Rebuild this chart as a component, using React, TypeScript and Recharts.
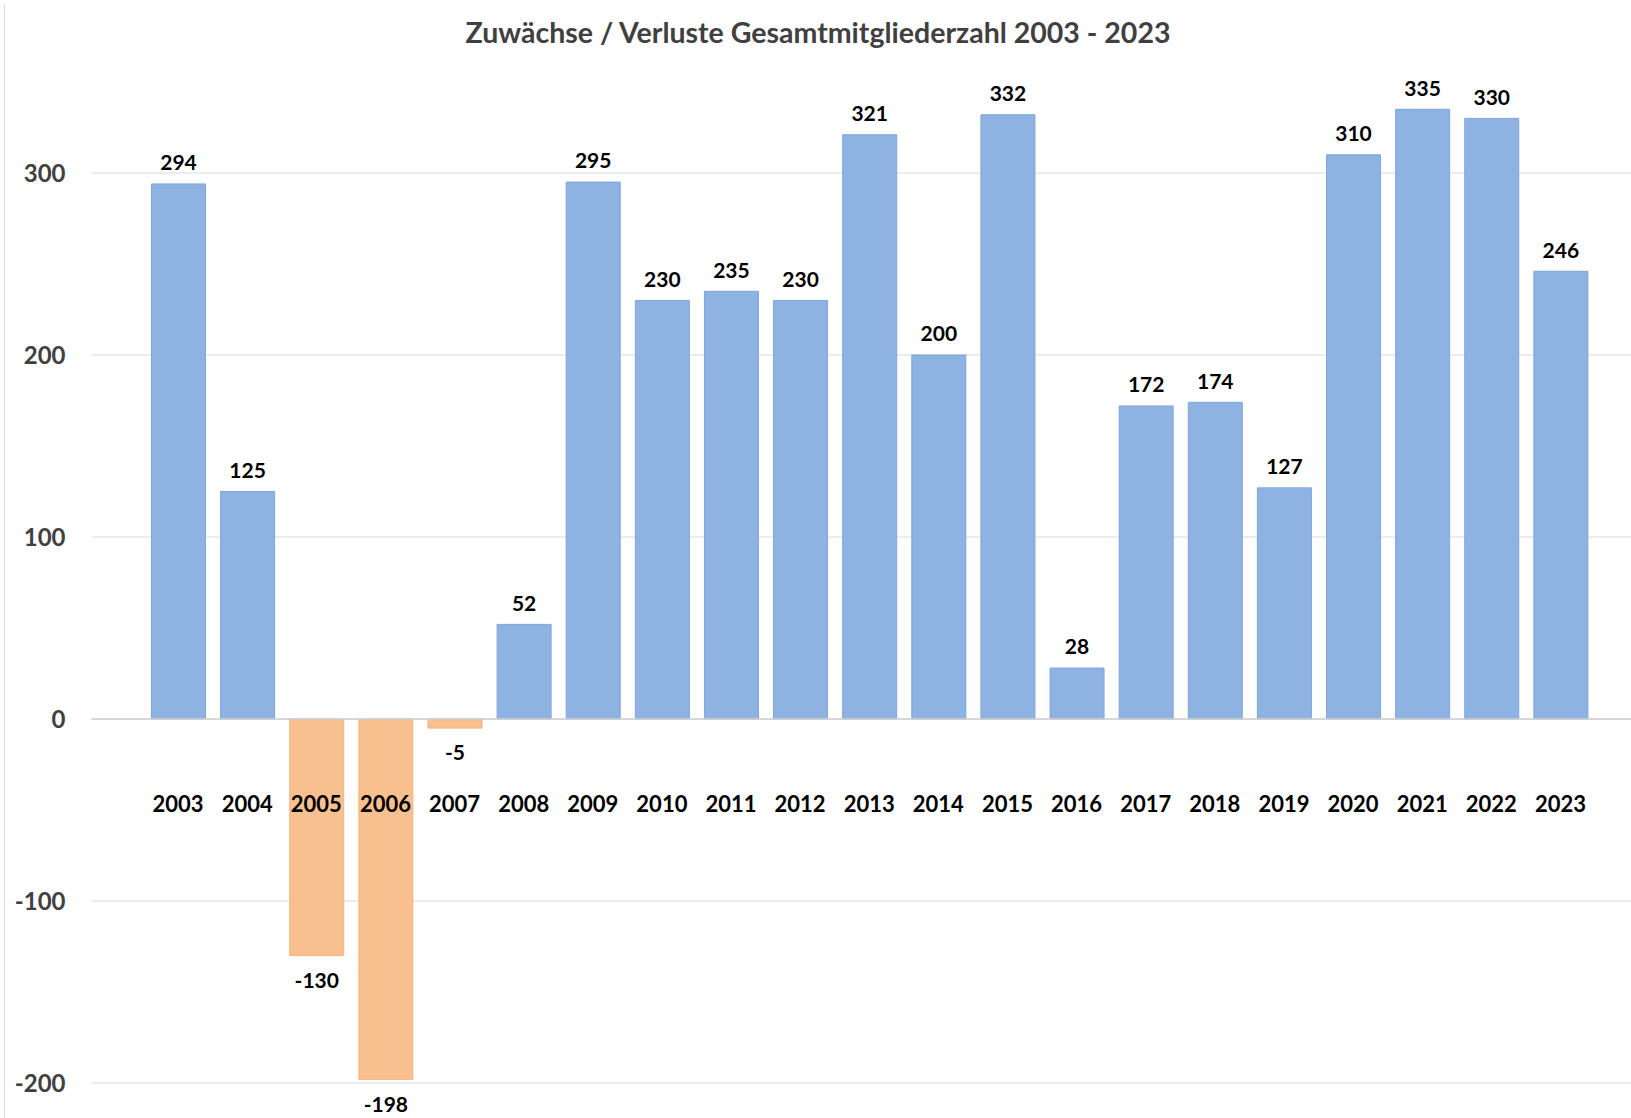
import { BarChart, Bar, XAxis, YAxis, CartesianGrid, ReferenceLine, LabelList, Cell } from "recharts";

const years = ["2003", "2004", "2005", "2006", "2007", "2008", "2009", "2010", "2011", "2012", "2013", "2014", "2015", "2016", "2017", "2018", "2019", "2020", "2021", "2022", "2023"];
const changes = [294, 125, -130, -198, -5, 52, 295, 230, 235, 230, 321, 200, 332, 28, 172, 174, 127, 310, 335, 330, 246];
const yTicks = [-200, -100, 0, 100, 200, 300];

const data = years.map((year, i) => ({ year, value: changes[i] }));

const COLORS = {
  gain: "#8eb2e1",
  gainStroke: "#7ea6da",
  loss: "#f9c08f",
  lossStroke: "#f3b17e",
};

const FONT = "Lato, 'Open Sans', sans-serif";

const YearTick = ({ x, y, payload }: any) => (
  <text x={x} y={y - 279} dy="0.35em" textAnchor="middle" fill="#000" fontFamily={FONT} fontWeight={700} fontSize={22}>
    {payload.value}
  </text>
);

const ValueLabel = ({ x, y, width, height, value }: any) => {
  const top = Math.min(y, y + height);
  const bottom = Math.max(y, y + height);
  const cy = value >= 0 ? top - 21 : bottom + 25;
  return (
    <text x={x + width / 2} y={cy} dy="0.35em" textAnchor="middle" fill="#000" fontFamily={FONT} fontWeight={700} fontSize={21}>
      {value}
    </text>
  );
};

export default function App() {
  return (
    <div style={{ position: "absolute", left: 0, top: 0, width: 1631, height: 1118, background: "#fff" }}>
      <div style={{ position: "absolute", left: 4, top: 4, bottom: 0, borderLeft: "1px solid #d9d9d9" }} />
      <div
        style={{
          position: "absolute",
          left: 0,
          width: 1636,
          top: 15,
          textAlign: "center",
          fontFamily: FONT,
          fontWeight: 700,
          fontSize: 28.5,
          lineHeight: "34px",
          color: "#404040",
        }}
      >
        Zuwächse / Verluste Gesamtmitgliederzahl 2003 - 2023
      </div>
      <BarChart width={1631} height={1118} data={data} margin={{ top: 82, right: 0, bottom: 5, left: 0 }}>
        <CartesianGrid vertical={false} stroke="#d9d9d9" horizontalValues={yTicks} />
        <XAxis
          dataKey="year"
          axisLine={false}
          tickLine={false}
          tickSize={0}
          tickMargin={0}
          height={30}
          padding={{ left: 52, right: 36 }}
          interval={0}
          tick={<YearTick />}
        />
        <YAxis
          domain={[-200, 350]}
          ticks={yTicks}
          width={91.5}
          axisLine={false}
          tickLine={false}
          tickSize={0}
          tickMargin={26}
          tick={{ fill: "#404040", fontFamily: FONT, fontWeight: 700, fontSize: 24 }}
        />
        <ReferenceLine y={0} stroke="#d0d0d0" strokeWidth={1.5} />
        <Bar dataKey="value" barSize={54} isAnimationActive={false}>
          {data.map((d) => (
            <Cell
              key={d.year}
              fill={d.value >= 0 ? COLORS.gain : COLORS.loss}
              stroke={d.value >= 0 ? COLORS.gainStroke : COLORS.lossStroke}
              strokeWidth={1}
            />
          ))}
          <LabelList dataKey="value" content={<ValueLabel />} />
        </Bar>
      </BarChart>
    </div>
  );
}
